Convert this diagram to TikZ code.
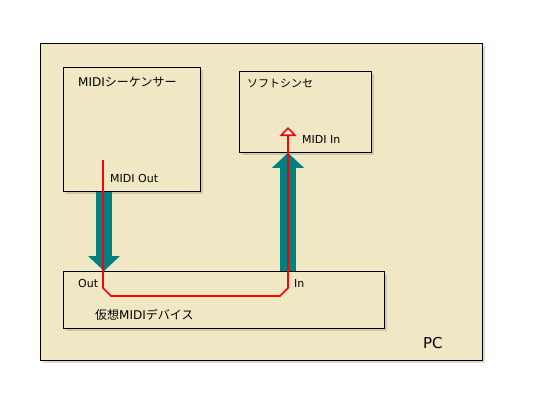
\documentclass[tikz,border=0pt]{standalone}
\usepackage{fontspec}
\setmainfont{DejaVu Sans}
\newfontfamily\jp{Noto Sans CJK JP}
\usetikzlibrary{positioning,arrows.meta,shadows}
\definecolor{panel}{RGB}{240,232,196}
\definecolor{pipecol}{RGB}{0,128,128}

\begin{document}
\begin{tikzpicture}[x=1pt,y=-1pt,
		box/.style={draw=black,fill=panel,line width=0.8pt,rectangle,anchor=north west,inner sep=0pt,
			drop shadow={shadow xshift=2.5pt,shadow yshift=-2.5pt,opacity=0.3}},
		title/.style={font=\fontsize{12}{14}\selectfont,anchor=west,inner sep=0pt},
		port/.style={font=\fontsize{11}{13}\selectfont,anchor=west,inner sep=0pt},
		pipe/.style={draw=pipecol,line width=16pt,-{Triangle[length=15pt,width=32pt,line width=0pt 0]}},
		signal/.style={draw=red,line width=1.6pt,line join=miter,-{Triangle[open,length=9pt,width=17pt,fill=white]}}]
	\useasboundingbox (0,0) rectangle (550,400);
	\node[box,minimum width=442pt,minimum height=317pt] (pc) at (40,43) {};
	\node[box,minimum width=137pt,minimum height=124pt] (seq) at (63,67) {};
	\node[box,minimum width=132pt,minimum height=81pt] (synth) at (239,71) {};
	\node[box,minimum width=321pt,minimum height=57pt] (dev) at (63,271) {};
	\node[title] (seqname) at ([shift={(15,15)}]seq.north west) {MIDI{\jp シーケンサー}};
	\node[port] (seqout) at ([shift={(47,111)}]seq.north west) {MIDI Out};
	\node[title,font=\fontsize{11}{13}\selectfont] (synthname) at ([shift={(8,12)}]synth.north west) {\jp ソフトシンセ};
	\node[port] (synthin) at ([shift={(63,68)}]synth.north west) {MIDI In};
	\node[port] (devout) at ([shift={(15,12)}]dev.north west) {Out};
	\node[port] (devin) at ([shift={(231,12)}]dev.north west) {In};
	\node[title] (devname) at ([shift={(32,44)}]dev.north west) {{\jp 仮想}MIDI{\jp デバイス}};
	\node[title,font=\fontsize{15}{17}\selectfont] (pcname) at ([shift={(-60,-18)}]pc.south east) {PC};
	\draw[pipe] ([xshift=41pt]seq.south west) -- ([xshift=41pt]dev.north west);
	\draw[pipe] ([xshift=225pt]dev.north west) -- ([xshift=49pt]synth.south west);
	\coordinate (src) at (103,160);
	\coordinate (dst) at (288,127);
	\draw[signal] (src) -- (103,288) -- (111,296) -- (280,296) -- (288,288) -- (dst);
\end{tikzpicture}
\end{document}
